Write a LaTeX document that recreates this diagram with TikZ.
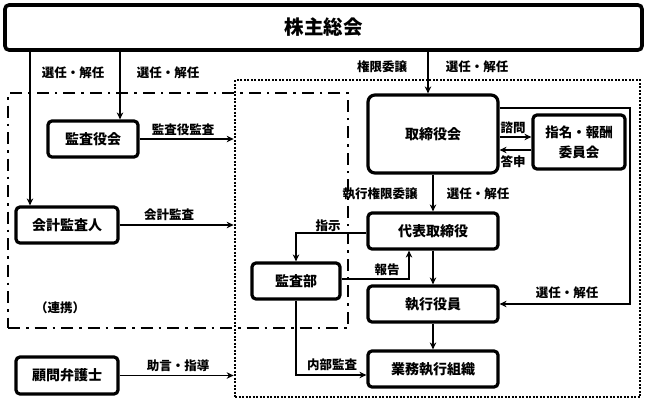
\documentclass[tikz,border=0pt]{standalone}
\usepackage{fontspec}
\setmainfont{Noto Sans CJK JP}
\usetikzlibrary{arrows.meta,positioning,calc}
\tikzset{
  box/.style={draw, line width=3.2pt, rounded corners=4pt, fill=white, align=center, inner sep=0pt,
    font=\bfseries\fontsize{14}{20}\selectfont},
  arr/.style={line width=1.8pt, -{Stealth[length=7pt,width=6.5pt]}},
  ln/.style={line width=1.8pt},
  lbl/.style={inner sep=0pt, font=\bfseries\fontsize{12.5}{14}\selectfont},
  dotbox/.style={draw, line width=2.7pt, dash pattern=on 2pt off 1.5pt, inner sep=0pt},
  dashdotbox/.style={draw, line width=2.6pt, dash pattern=on 12pt off 6pt on 2.5pt off 6pt, inner sep=0pt}
}
\begin{document}
\begin{tikzpicture}[x=1pt,y=-1pt]
\path[use as bounding box, fill=white] (0,0) rectangle (648,407);

% grouping frames
\node[dotbox, minimum width=405pt, minimum height=317pt] (exec) at (437.5,238.5) {};
\node[dashdotbox, minimum width=340pt, minimum height=235pt] (renkei) at (178,210.5) {};

% nodes
\node[box, line width=3.6pt, minimum width=637pt, minimum height=45pt, font=\bfseries\fontsize{19.5}{22}\selectfont] (kabu) at (323.5,27.5) {株主総会};
\node[box, minimum width=90pt, minimum height=36pt] (kansayaku) at (93,139) {監査役会};
\node[box, minimum width=102pt, minimum height=36pt] (kaikei) at (67,225) {会計監査人};
\node[box, minimum width=130pt, minimum height=78pt, rounded corners=7pt] (tori) at (433,134) {取締役会};
\node[box, minimum width=92pt, minimum height=54pt, font=\bfseries\fontsize{13.5}{20}\selectfont] (shimei) at (579,142) {指名・報酬\\委員会};
\node[box, minimum width=130pt, minimum height=36pt] (daihyo) at (433,231) {代表取締役};
\node[box, minimum width=88pt, minimum height=36pt] (kansabu) at (296,281) {監査部};
\node[box, minimum width=130pt, minimum height=36pt] (shikko) at (433,304) {執行役員};
\node[box, minimum width=130pt, minimum height=36pt] (gyomu) at (433,369) {業務執行組織};
\node[box, minimum width=102pt, minimum height=37pt] (komon) at (67,375.5) {顧問弁護士};

% helper coordinates
\coordinate (xa) at (30,0);
\coordinate (xb) at (120,0);
\coordinate (xc) at (428,0);
\coordinate (ya) at (0,108);
\coordinate (xr) at (630,0);
\coordinate (ys1) at (0,137);
\coordinate (ys2) at (0,150);
\coordinate (xh) at (409,0);
\coordinate (yn) at (0,375);
\coordinate (ys) at (0,233);
\coordinate (yh) at (0,279);

% connectors
\draw[arr] (kabu.south -| xa) -- (kaikei.north -| xa);
\draw[arr] (kabu.south -| xb) -- (kansayaku.north -| xb);
\draw[arr] (kabu.south -| xc) -- (tori.north -| xc);
\draw[arr] (kansayaku.east) -- (kansayaku.east -| exec.west);
\draw[arr] (kaikei.east) -- (kaikei.east -| exec.west);
\draw[arr] (komon.east) -- (komon.east -| exec.west);
\draw[arr] (tori.south) -- (daihyo.north);
\draw[arr] (daihyo.south) -- (shikko.north);
\draw[arr] (shikko.south) -- (gyomu.north);
\draw[arr] (tori.east |- ya) -- (xr |- ya) -- (xr |- shikko.east) -- (shikko.east);
\draw[arr] (tori.east |- ys1) -- (shimei.west |- ys1);
\draw[arr] (shimei.west |- ys2) -- (tori.east |- ys2);
\draw[arr] (daihyo.west |- ys) -| (kansabu.north);
\draw[arr] (kansabu.east |- yh) -| (daihyo.south -| xh);
\draw[arr] (kansabu.south) |- (gyomu.west |- yn);

% labels
\node[lbl] (l1) at (73,73) {選任・解任};
\node[lbl] (l2) at (168,73) {選任・解任};
\node[lbl] (l3) at (382,67) {権限委譲};
\node[lbl] (l4) at (477,67) {選任・解任};
\node[lbl] (l5) at (183,130) {監査役監査};
\node[lbl] (l6) at (169,215) {会計監査};
\node[lbl] (l7) at (513,128) {諮問};
\node[lbl] (l8) at (513,162) {答申};
\node[lbl] (l9) at (380,194) {執行権限委譲};
\node[lbl] (l10) at (478,194) {選任・解任};
\node[lbl] (l11) at (328,226) {指示};
\node[lbl] (l12) at (387,270) {報告};
\node[lbl] (l13) at (567,293) {選任・解任};
\node[lbl] (l14) at (332,365) {内部監査};
\node[lbl] (l15) at (178,366) {助言・指導};
\node[lbl] (l16) at (60,308) {（連携）};
\end{tikzpicture}
\end{document}
